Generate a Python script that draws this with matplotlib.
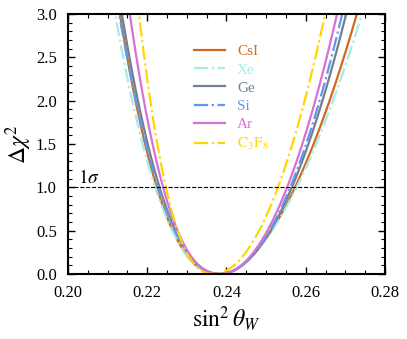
# Delta chi^2 profiles for sin^2(theta_W) from different detector targets
import numpy as np
import matplotlib.pyplot as plt
from matplotlib.ticker import MultipleLocator

plt.rcParams['font.family'] = ['Liberation Serif', 'DejaVu Serif']
plt.rcParams['mathtext.fontset'] = 'stix'

# Values: best fit and where each curve crosses
# Delta chi^2 = 1 and 3 on the left / right side
targets = ['CsI', 'Xe', 'Ge', 'Si', 'Ar', r'$\mathrm{C_3F_8}$']
colors = ['#D2691E', '#A8ECE6', '#708090', '#6495ED', '#DA70D6', '#FFD700']
styles = ['-', '-.', '-', '-.', '-', '-.']
best_fit = [0.2385, 0.2384, 0.2386, 0.2385, 0.2387, 0.2368]
left_1 = [0.2224, 0.2220, 0.2231, 0.2228, 0.2240, 0.2247]
left_3 = [0.2131, 0.2119, 0.2136, 0.2129, 0.2156, 0.2179]
right_1 = [0.2573, 0.2577, 0.2565, 0.2561, 0.2553, 0.2530]
right_3 = [0.2729, 0.2742, 0.2702, 0.2692, 0.2679, 0.2649]


def profile(x, x0, d1, d3):
    # power law through the read-off 1 and 3 crossings
    p = np.log(3) / np.log(d3 / d1)
    return (np.abs(x - x0) / d1) ** p


fig = plt.figure(figsize=(4.07, 3.39), dpi=100)
ax = fig.add_axes([0.167, 0.192, 0.779, 0.767])

for i, name in enumerate(targets):
    x0 = best_fit[i]
    xl = np.linspace(0.20, x0, 300)
    xr = np.linspace(x0, 0.28, 300)
    yl = profile(xl, x0, x0 - left_1[i], x0 - left_3[i])
    yr = profile(xr, x0, right_1[i] - x0, right_3[i] - x0)
    ax.plot(np.concatenate([xl, xr]), np.concatenate([yl, yr]),
            ls=styles[i], color=colors[i], lw=1.6, label=name)

ax.axhline(1.0, color='black', ls='--', lw=0.8)
ax.text(0.2025, 1.05, r'$1\sigma$', fontsize=14)

ax.set_xlim(0.20, 0.28)
ax.set_ylim(0.0, 3.0)
ax.xaxis.set_major_locator(MultipleLocator(0.02))
ax.xaxis.set_minor_locator(MultipleLocator(0.005))
ax.yaxis.set_major_locator(MultipleLocator(0.5))
ax.yaxis.set_minor_locator(MultipleLocator(0.1))
ax.xaxis.set_major_formatter(plt.FormatStrFormatter('%.2f'))
ax.yaxis.set_major_formatter(plt.FormatStrFormatter('%.1f'))
ax.tick_params(which='both', direction='in', top=True, right=True, labelsize=12)
ax.tick_params(axis='x', which='major', pad=8)
ax.tick_params(axis='y', which='major', pad=8)
ax.tick_params(which='major', length=5, width=1)
ax.tick_params(which='minor', length=3, width=0.8)
for s in ax.spines.values():
    s.set_linewidth(1.5)

ax.set_xlabel(r'$\sin^2\theta_W$', fontsize=17, labelpad=2)
ax.set_ylabel(r'$\Delta\chi^2$', fontsize=17, labelpad=1)

leg = ax.legend(loc='upper left', bbox_to_anchor=(0.355, 0.935), frameon=False,
                fontsize=11, labelspacing=0.3, handlelength=2.0)
for txt, c in zip(leg.get_texts(), colors):
    txt.set_color(c)

plt.savefig('out.png', dpi=100)
